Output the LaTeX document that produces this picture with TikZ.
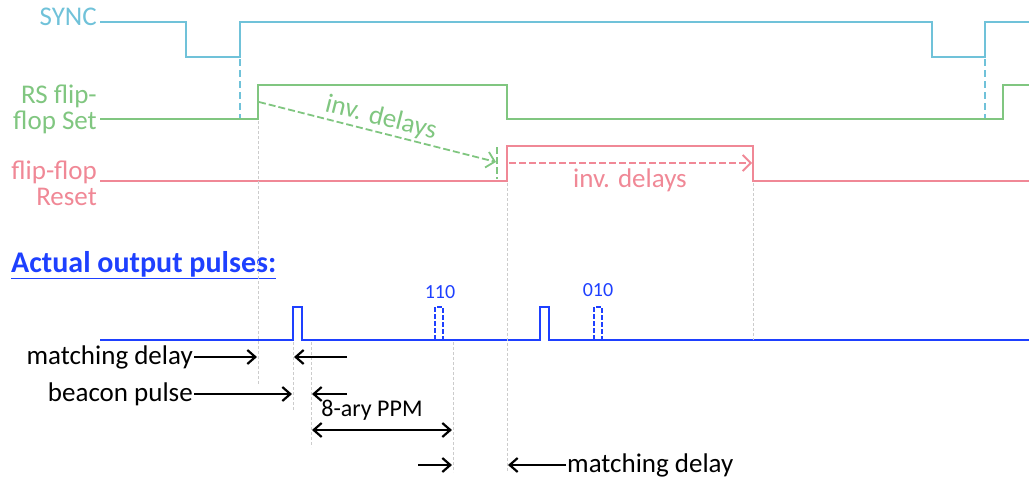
\documentclass[tikz,border=0pt]{standalone}
\usepackage{fontspec}
\setmainfont{Carlito}
\usepackage{tikz}
\usetikzlibrary{arrows.meta}
\definecolor{syncc}{RGB}{112,194,217}
\definecolor{setc}{RGB}{128,198,128}
\definecolor{resetc}{RGB}{240,136,150}
\definecolor{outc}{RGB}{30,64,255}

\begin{document}
\begin{tikzpicture}[x=1pt,y=-1pt,
            wave/.style={line width=2.4pt,line join=miter},
            lbl/.style={anchor=east,align=right,font=\fontsize{27}{26}\selectfont,inner sep=1pt},
            txt/.style={font=\fontsize{27}{26}\selectfont,inner sep=1pt},
            guide/.style={gray!40,dash pattern=on 3pt off 2pt,line width=0.9pt},
            dly/.style={line width=1.8pt,dash pattern=on 7pt off 3pt,-{Straight Barb[length=8pt,width=16pt]}},
            arrow/.style={-{Straight Barb[length=8pt,width=14pt]},line width=2.2pt},
            darrow/.style={{Straight Barb[length=8pt,width=14pt]}-{Straight Barb[length=8pt,width=14pt]},line width=2.2pt}]
            \useasboundingbox (0,0) rectangle (1029,479);
            % signal names
            \node[lbl,text=syncc] (sync) at (98,17) {SYNC};
            \node[lbl,text=setc] (set) at (98,109) {RS flip-\\flop Set};
            \node[lbl,text=resetc] (reset) at (98,183) {flip-flop\\Reset};
            % waveforms
            \draw[wave,syncc] (100,22)--(186,22)--(186,57)--(240,57)--(240,22)--(932,22)--(932,57)--(985,57)--(985,22)--(1029,22);
            \draw[wave,setc] (100,119)--(258,119)--(258,85)--(507,85)--(507,119)--(1003,119)--(1003,85)--(1029,85);
            \draw[wave,resetc] (100,181)--(507,181)--(507,146)--(753,146)--(753,181)--(1029,181);
            \draw[syncc,line width=2.4pt,dash pattern=on 7pt off 4pt] (240,59)--(240,118);
            \draw[syncc,line width=2.4pt,dash pattern=on 7pt off 4pt] (985,59)--(985,118);
            % delay arrows
            \coordinate (setA) at (259,102);
            \coordinate (setB) at (496,162);
            \coordinate (resA) at (509,163);
            \coordinate (resB) at (752,163);
            \draw[setc,dly] (setA)--(setB)
                node[midway,above=1pt,sloped,txt] (setdly) {inv. delays};
            \draw[setc,line width=1.8pt,dash pattern=on 7pt off 3pt] (497,147)--(497,179);
            \draw[resetc,dly] (resA)--(resB);
            \node[txt,text=resetc] (resdly) at (630,180) {inv. delays};
            % output pulses
            \node[anchor=west,text=outc,font=\fontsize{30}{30}\selectfont\bfseries,inner sep=1pt] (title) at (10,265) {\underline{Actual output pulses:}};
            \draw[wave,outc,line width=2.2pt] (100,340)--(293,340)--(293,307)--(302,307)--(302,340)--(540,340)--(540,307)--(549,307)--(549,340)--(1029,340);
            \draw[outc,line width=2pt,dash pattern=on 5pt off 2pt] (435,340)--(435,307)--(443,307)--(443,340);
            \draw[outc,line width=2pt,dash pattern=on 5pt off 2pt] (594,340)--(594,307)--(602,307)--(602,340);
            \node[text=outc,font=\fontsize{20}{20}\selectfont,inner sep=1pt] (p110) at (440,292) {110};
            \node[text=outc,font=\fontsize{20}{20}\selectfont,inner sep=1pt] (p010) at (598,290) {010};
            % guides
            \draw[guide] (258,121)--(258,385);
            \draw[guide] (507,183)--(507,472);
            \draw[guide] (753,183)--(753,340);
            \draw[guide] (293,342)--(293,410);
            \draw[guide] (311,342)--(311,447);
            \draw[guide] (453,342)--(453,472);
            % timing labels
            \node[lbl] (md1) at (194,357) {matching delay};
            \node[lbl] (bp) at (194,394) {beacon pulse};
            \node[txt,font=\fontsize{24}{24}\selectfont] (ppm) at (372,410) {8-ary PPM};
            \node[txt,anchor=west] (md2) at (566,465) {matching delay};
            \coordinate (md1R) at (257,357);
            \coordinate (md1S) at (347,357);
            \coordinate (md1E) at (294,357);
            \coordinate (bpR) at (292,394);
            \coordinate (bpS) at (347,394);
            \coordinate (bpE) at (312,394);
            \coordinate (ppmL) at (312,430);
            \coordinate (ppmR) at (452,430);
            \coordinate (md2S) at (418,465);
            \coordinate (md2E) at (452,465);
            \coordinate (md2L) at (508,465);
            \draw[arrow] (md1)--(md1R);
            \draw[arrow] (md1S)--(md1E);
            \draw[arrow] (bp)--(bpR);
            \draw[arrow] (bpS)--(bpE);
            \draw[darrow] (ppmL)--(ppmR);
            \draw[arrow] (md2S)--(md2E);
            \draw[arrow] (md2.west)--(md2L);
        \end{tikzpicture}
\end{document}
